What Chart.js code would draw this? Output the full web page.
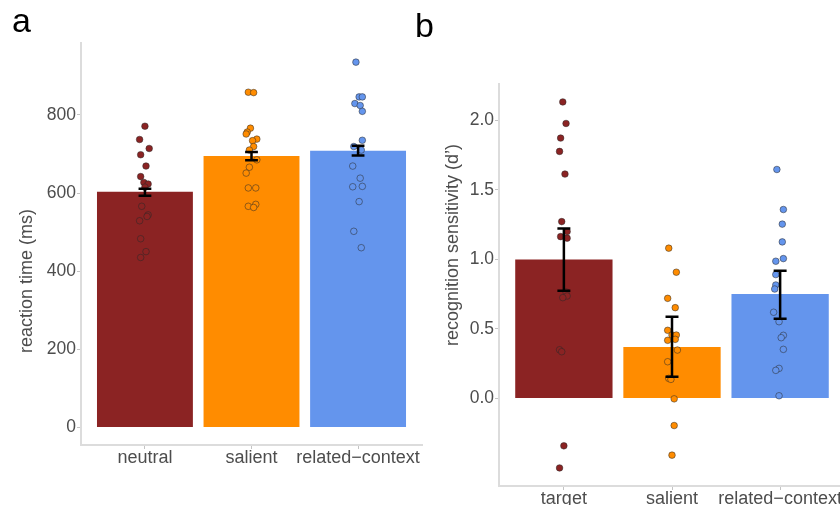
<!DOCTYPE html>
<html>
<head>
<meta charset="utf-8">
<script src="https://cdn.jsdelivr.net/npm/chart.js@4.4.1/dist/chart.umd.min.js"></script>
<style>
  html, body { margin: 0; padding: 0; background: #fff; overflow: hidden; }
  body { width: 840px; height: 505px; position: relative; }
  canvas { position: absolute; top: 0; }
  #chart-a { left: 0; z-index: 1; }
  #chart-b { left: 400px; z-index: 2; }
</style>
</head>
<body>
<canvas id="chart-a" width="430" height="505"></canvas>
<canvas id="chart-b" width="460" height="505"></canvas>
<script>
const colors = ['#8B2323', '#FF8C00', '#6495ED'];

// panel a: reaction time
const aCategories = ['neutral', 'salient', 'related\u2212context'];
const aMeans = [603, 695, 708];
const aErrLow = [593, 684, 696];
const aErrHigh = [611, 705, 721];
const aYTicks = [0, 200, 400, 600, 800];
const aNeutral = [771, 737, 714, 698, 669, 642, 627, 623, 615, 566, 544, 540, 529, 483, 450, 435];
const aNeutralJit = [0, -0.05, 0.04, -0.04, 0.01, -0.04, -0.01, 0.03, 0, -0.03, 0.03, 0.02, -0.05, -0.04, 0.01, -0.04];
const aSalient = [858, 857, 766, 756, 751, 738, 734, 719, 710, 685, 666, 651, 613, 613, 566, 571, 563];
const aSalientJit = [-0.03, 0.02, -0.01, -0.04, -0.05, 0.05, 0.01, 0.02, -0.02, 0.05, -0.02, -0.05, -0.03, 0.04, -0.03, 0.04, 0.02];
const aRelated = [935, 846, 846, 829, 824, 809, 735, 719, 710, 669, 638, 616, 617, 578, 502, 460];
const aRelatedJit = [-0.02, 0.01, 0.04, -0.03, 0.02, 0.04, 0.04, -0.04, 0.03, -0.05, 0.02, -0.05, 0.04, 0.01, -0.04, 0.03];

// panel b: recognition sensitivity
const bCategories = ['target', 'salient', 'related\u2212context'];
const bMeans = [1.0, 0.37, 0.751];
const bErrLow = [0.775, 0.156, 0.574];
const bErrHigh = [1.222, 0.588, 0.919];
const bYTicks = [0, 0.5, 1, 1.5, 2];
const bTarget = [2.133, 1.978, 1.873, 1.777, 1.614, 1.272, 1.20, 1.164, 1.153, 0.766, 0.737, 0.725, 0.35, 0.336, -0.341, -0.50];
const bTargetJit = [-0.01, 0.02, -0.03, -0.04, 0.01, -0.02, 0.03, -0.03, 0.03, 0.02, 0.03, -0.01, -0.04, -0.02, 0, -0.04];
const bSalient = [1.081, 0.908, 0.72, 0.653, 0.49, 0.456, 0.456, 0.425, 0.418, 0.348, 0.264, 0.144, 0.137, -0.003, -0.195, -0.408];
const bSalientJit = [-0.03, 0.04, -0.04, 0.03, -0.04, 0, 0.04, 0.03, -0.04, 0.05, -0.04, -0.03, -0.01, 0.02, 0.02, 0];
const bRelated = [1.647, 1.359, 1.254, 1.126, 1.006, 0.987, 0.891, 0.816, 0.787, 0.62, 0.552, 0.454, 0.437, 0.353, 0.216, 0.202, 0.019];
const bRelatedJit = [-0.03, 0.03, 0.02, 0.02, 0.03, -0.04, -0.04, -0.04, -0.05, -0.06, -0.01, 0.03, 0.01, 0.03, -0.01, -0.04, -0.01];

Chart.defaults.font.family = '"Liberation Sans", Arial, sans-serif';
Chart.defaults.color = '#4d4d4d';

// error bars drawn on top of everything
const errorBars = {
  id: 'errorBars',
  afterDatasetsDraw(chart, args, opts) {
    const { ctx, scales: { x, y } } = chart;
    ctx.save();
    ctx.strokeStyle = '#000';
    ctx.lineWidth = 2.5;
    opts.low.forEach((lo, i) => {
      const px = x.getPixelForValue(i + 1);
      const half = x.getPixelForValue(i + 1 + opts.cap / 2) - px;
      const yl = y.getPixelForValue(lo);
      const yh = y.getPixelForValue(opts.high[i]);
      ctx.beginPath();
      ctx.moveTo(px, yl); ctx.lineTo(px, yh);
      ctx.moveTo(px - half, yl); ctx.lineTo(px + half, yl);
      ctx.moveTo(px - half, yh); ctx.lineTo(px + half, yh);
      ctx.stroke();
    });
    ctx.restore();
  }
};

// y title and panel letter
const labels = {
  id: 'labels',
  afterDraw(chart, args, opts) {
    const ctx = chart.ctx;
    ctx.save();
    ctx.fillStyle = '#4d4d4d';
    ctx.font = '18px "Liberation Sans", Arial, sans-serif';
    ctx.textAlign = 'center';
    ctx.textBaseline = 'middle';
    ctx.translate(opts.titleX, opts.titleY);
    ctx.rotate(-Math.PI / 2);
    ctx.fillText(opts.title, 0, 0);
    ctx.restore();
    ctx.save();
    ctx.fillStyle = '#000';
    ctx.font = '34px "Liberation Sans", Arial, sans-serif';
    ctx.textAlign = 'left';
    ctx.textBaseline = 'alphabetic';
    ctx.fillText(opts.letter, opts.letterX, opts.letterY);
    ctx.restore();
  }
};

function pointSets(groups, jitters) {
  return groups.map((vals, i) => ({
    type: 'scatter',
    data: vals.map((v, k) => ({ x: i + 1 + jitters[i][k], y: v })),
    backgroundColor: colors[i],
    borderColor: 'rgba(40,40,40,0.5)',
    borderWidth: 1,
    pointRadius: 3.3,
    order: 1
  }));
}

function makeChart(id, p) {
  const axisStyle = {
    grid: { drawOnChartArea: false, drawTicks: true, tickLength: 4, color: '#c4c4c4', offset: false },
    border: { display: true, color: '#dcdcdc', width: 2 }
  };
  new Chart(document.getElementById(id), {
    type: 'bar',
    data: {
      datasets: [
        {
          type: 'bar',
          data: p.means.map((m, i) => ({ x: i + 1, y: m })),
          backgroundColor: colors,
          categoryPercentage: 0.9,
          barPercentage: 1,
          order: 2
        },
        ...pointSets(p.groups, p.jitters)
      ]
    },
    options: {
      responsive: false,
      animation: false,
      events: [],
      layout: { padding: p.padding },
      plugins: {
        legend: { display: false },
        tooltip: { enabled: false },
        errorBars: { low: p.low, high: p.high, cap: 0.12 },
        labels: p.labels
      },
      scales: {
        x: {
          type: 'linear',
          min: 0.4, max: 3.6,
          offset: false,
          ...axisStyle,
          afterBuildTicks: s => { s.ticks = p.cats.map((c, i) => ({ value: i + 1 })); },
          afterFit: s => { s.height = p.xHeight; },
          ticks: {
            autoSkip: false, maxRotation: 0, padding: -1.5,
            font: { size: 18 },
            callback: (v, i) => p.cats[i]
          }
        },
        y: {
          type: 'linear',
          min: p.yMin, max: p.yMax,
          ...axisStyle,
          afterBuildTicks: s => { s.ticks = p.yTicks.map(v => ({ value: v })); },
          afterFit: s => { s.width = p.yWidth; },
          ticks: {
            padding: 1,
            font: { size: 17.5 },
            callback: v => p.fmt(v)
          }
        }
      }
    },
    plugins: [errorBars, labels]
  });
}

makeChart('chart-a', {
  cats: aCategories, means: aMeans, low: aErrLow, high: aErrHigh,
  groups: [aNeutral, aSalient, aRelated],
  jitters: [aNeutralJit, aSalientJit, aRelatedJit],
  yMin: -45, yMax: 984, yTicks: aYTicks, fmt: v => String(v),
  padding: { top: 43, right: 8, bottom: 0, left: 0 },
  yWidth: 81, xHeight: 60,
  labels: { title: 'reaction time (ms)', titleX: 27, titleY: 281, letter: 'a', letterX: 12, letterY: 31.5 }
});

makeChart('chart-b', {
  cats: bCategories, means: bMeans, low: bErrLow, high: bErrHigh,
  groups: [bTarget, bSalient, bRelated],
  jitters: [bTargetJit, bSalientJit, bRelatedJit],
  yMin: -0.63, yMax: 2.262, yTicks: bYTicks, fmt: v => v.toFixed(1),
  padding: { top: 84, right: 15, bottom: 0, left: 0 },
  yWidth: 99, xHeight: 19,
  labels: { title: 'recognition sensitivity (d\u2019)', titleX: 53, titleY: 245, letter: 'b', letterX: 15, letterY: 36.5 }
});
</script>
</body>
</html>
